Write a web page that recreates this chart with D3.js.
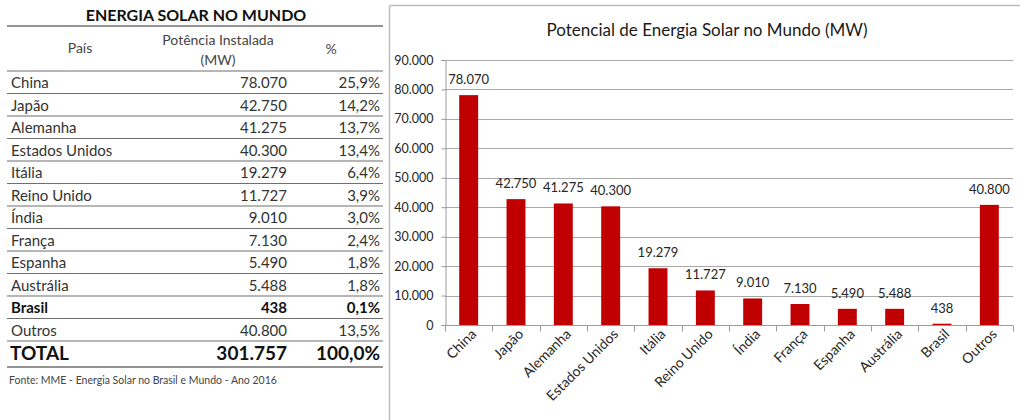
<!DOCTYPE html>
<html lang="pt">
<head>
  <meta charset="UTF-8" />
  <title>Energia Solar no Mundo</title>
  <style>
    body {
      margin: 0;
      background-color: #fff;
      font-family: Lato, "Open Sans", sans-serif;
    }
    svg text {
      fill: #262626;
    }
  </style>
</head>
<body>
  <svg width="1020" height="420"></svg>

  <script src="https://d3js.org/d3.v7.min.js"></script>
  <script>
    // data
    const countries = ["China", "Japão", "Alemanha", "Estados Unidos", "Itália", "Reino Unido",
      "Índia", "França", "Espanha", "Austrália", "Brasil", "Outros"];
    const power = [78070, 42750, 41275, 40300, 19279, 11727, 9010, 7130, 5490, 5488, 438, 40800];
    const percent = ["25,9%", "14,2%", "13,7%", "13,4%", "6,4%", "3,9%", "3,0%", "2,4%", "1,8%", "1,8%", "0,1%", "13,5%"];
    const totalPower = 301757;
    const totalPercent = "100,0%";
    const yTicks = [0, 10000, 20000, 30000, 40000, 50000, 60000, 70000, 80000, 90000];

    const ptBR = d3.formatLocale({ decimal: ",", thousands: ".", grouping: [3], currency: ["R$", ""] });
    const fmt = ptBR.format(",d");

    const svg = d3.select("svg");

    // ---------- table ----------
    const table = svg.append("g");
    const lineColor = "#6f6f6f";

    table.append("text")
      .attr("x", 196).attr("y", 21)
      .attr("text-anchor", "middle")
      .style("font-size", "16px").style("font-weight", "bold")
      .style("fill", "#111")
      .text("ENERGIA SOLAR NO MUNDO");

    table.append("line")
      .attr("x1", 7).attr("x2", 383).attr("y1", 26).attr("y2", 26)
      .attr("stroke", lineColor).attr("stroke-width", 1.5);

    const head = [
      { t: "País", x: 80, y: 53 },
      { t: "Potência Instalada", x: 218, y: 45 },
      { t: "(MW)", x: 218, y: 65 },
      { t: "%", x: 331, y: 54 }
    ];
    table.selectAll(".head").data(head).join("text")
      .attr("x", d => d.x).attr("y", d => d.y)
      .attr("text-anchor", "middle")
      .style("font-size", "14px").style("fill", "#444")
      .text(d => d.t);

    const rowY = d3.scaleLinear().domain([0, 1]).range([71, 93.5]);

    table.append("line")
      .attr("x1", 7).attr("x2", 383).attr("y1", rowY(0)).attr("y2", rowY(0))
      .attr("stroke", lineColor).attr("stroke-width", 1.2);

    const rows = table.selectAll(".row").data(countries).join("g")
      .attr("transform", (d, i) => `translate(0,${rowY(i)})`)
      .style("font-size", "15px")
      .style("font-weight", d => d === "Brasil" ? "bold" : "normal");

    rows.append("text").attr("x", 11).attr("y", 17).text(d => d)
      .style("fill", d => d === "Brasil" ? "#111" : "#333");
    rows.append("text").attr("x", 287).attr("y", 17).attr("text-anchor", "end")
      .text((d, i) => fmt(power[i]))
      .style("fill", d => d === "Brasil" ? "#111" : "#333");
    rows.append("text").attr("x", 380).attr("y", 17).attr("text-anchor", "end")
      .text((d, i) => percent[i])
      .style("fill", d => d === "Brasil" ? "#111" : "#333");
    rows.append("line")
      .attr("x1", 7).attr("x2", 383).attr("y1", 22.5).attr("y2", 22.5)
      .attr("stroke", lineColor).attr("stroke-width", 1.2);

    const totY = rowY(countries.length);
    const total = table.append("g").attr("transform", `translate(0,${totY})`)
      .style("font-size", "19px").style("font-weight", "bold");
    total.append("text").attr("x", 10).attr("y", 19).style("fill", "#111").text("TOTAL");
    total.append("text").attr("x", 287).attr("y", 19).attr("text-anchor", "end").style("fill", "#111").text(fmt(totalPower));
    total.append("text").attr("x", 380).attr("y", 19).attr("text-anchor", "end").style("fill", "#111").text(totalPercent);
    total.append("line")
      .attr("x1", 7).attr("x2", 383).attr("y1", 26).attr("y2", 26)
      .attr("stroke", lineColor).attr("stroke-width", 1.5);

    table.append("text")
      .attr("x", 9).attr("y", 384)
      .style("font-size", "10.5px").style("fill", "#444")
      .text("Fonte: MME - Energia Solar no Brasil e Mundo - Ano 2016");

    // ---------- chart ----------
    const chart = svg.append("g");

    chart.append("line")
      .attr("x1", 389.5).attr("x2", 1020).attr("y1", 5.5).attr("y2", 5.5)
      .attr("stroke", "#bdbdbd").attr("stroke-width", 1.5);
    chart.append("line")
      .attr("x1", 389.5).attr("x2", 389.5).attr("y1", 5.5).attr("y2", 420)
      .attr("stroke", "#bdbdbd").attr("stroke-width", 1.5);

    chart.append("text")
      .attr("x", 707).attr("y", 36)
      .attr("text-anchor", "middle")
      .style("font-size", "17px").style("fill", "#1a1a1a")
      .text("Potencial de Energia Solar no Mundo (MW)");

    const x = d3.scaleBand().domain(countries).range([445, 1013]).padding(0);
    const y = d3.scaleLinear().domain([0, 90000]).range([325, 60]);

    // gridlines
    chart.append("g").selectAll("line").data(yTicks.slice(1)).join("line")
      .attr("x1", 445).attr("x2", 1013)
      .attr("y1", d => Math.round(y(d)) + 0.5).attr("y2", d => Math.round(y(d)) + 0.5)
      .attr("stroke", "#a8a8a8").attr("stroke-width", 1);

    const yAxis = chart.append("g")
      .attr("transform", "translate(445.5,0)")
      .call(d3.axisLeft(y).tickValues(yTicks).tickFormat(fmt).tickSize(4).tickPadding(8));
    yAxis.select(".domain").attr("stroke", "#9a9a9a");
    yAxis.selectAll(".tick line").attr("stroke", "#9a9a9a");
    yAxis.selectAll(".tick text")
      .style("font-family", "Lato, sans-serif").style("font-size", "12.5px").style("fill", "#262626");

    // x axis with ticks at band boundaries
    const xAxis = chart.append("g").attr("transform", "translate(0,325.5)");
    xAxis.append("line").attr("x1", 445).attr("x2", 1013).attr("stroke", "#9a9a9a");
    xAxis.selectAll(".bt").data(countries.concat(["end"])).join("line")
      .attr("x1", (d, i) => Math.round(445 + i * x.step()) + 0.5)
      .attr("x2", (d, i) => Math.round(445 + i * x.step()) + 0.5)
      .attr("y1", 0).attr("y2", 6)
      .attr("stroke", "#9a9a9a");

    xAxis.selectAll(".lab").data(countries).join("text")
      .attr("transform", d => `translate(${x(d) + x.bandwidth() / 2 + 5},${6}) rotate(-45)`)
      .attr("text-anchor", "end")
      .attr("dy", "0.35em")
      .style("font-size", "14px")
      .text(d => d);

    // bars
    const barW = x.bandwidth() * 0.4;
    chart.append("g").selectAll("rect").data(countries).join("rect")
      .attr("x", d => x(d) + (x.bandwidth() - barW) / 2)
      .attr("width", barW)
      .attr("y", (d, i) => y(power[i]))
      .attr("height", (d, i) => y(0) - y(power[i]))
      .attr("fill", "#c00000");

    chart.append("g").selectAll("text").data(countries).join("text")
      .attr("x", d => x(d) + x.bandwidth() / 2)
      .attr("y", (d, i) => y(power[i]) - 11)
      .attr("text-anchor", "middle")
      .style("font-size", "13px")
      .text((d, i) => fmt(power[i]));
  </script>
</body>
</html>
